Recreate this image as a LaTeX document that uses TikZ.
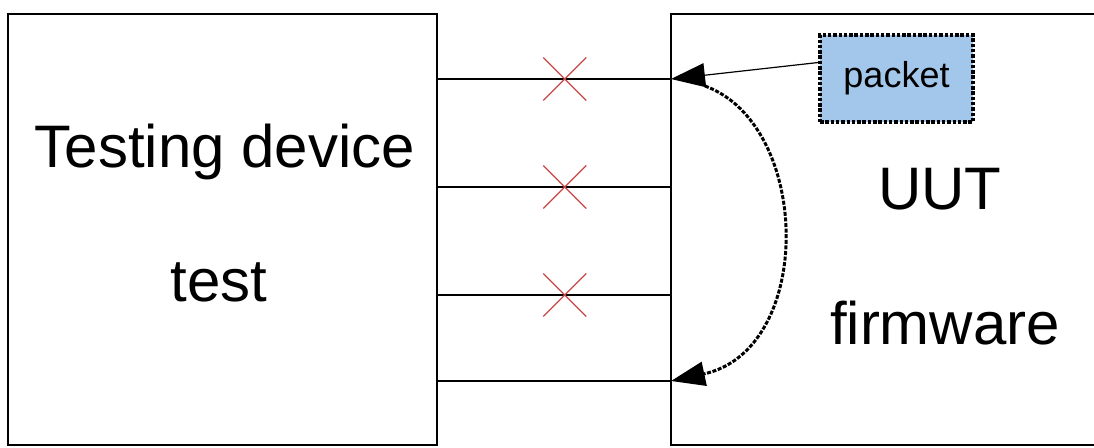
\documentclass[tikz,border=0pt]{standalone}
\usepackage{fontspec}
\setmainfont{Liberation Sans}
\usetikzlibrary{arrows.meta,calc}
\definecolor{crossred}{RGB}{200,70,70}
\definecolor{pktblue}{RGB}{163,199,235}
\tikzset{
  unit/.style={draw=black, line width=1.4pt, minimum width=#1, minimum height=431pt, inner sep=0pt, outer sep=0pt},
  bigtext/.style={font=\fontsize{60}{62}\selectfont, anchor=base},
  link/.style={draw=black, line width=1.3pt},
  cut/.style={draw=crossred, line width=1.2pt},
  pktbox/.style={draw=black, fill=pktblue, line width=3.4pt, dash pattern=on 3.5pt off 1.8pt,
    minimum width=153pt, minimum height=87pt, inner sep=0pt, font=\fontsize{36}{38}\selectfont},
  headtip/.style={-{Triangle[length=34pt, width=24pt]}},
}
\begin{document}
\begin{tikzpicture}[x=1pt, y=-1pt]
  \useasboundingbox (0,0) rectangle (1094,447);
  \clip (0,0) rectangle (1094,447);

  % the two units
  \node[unit=429pt] (dev) at (222.5,229.5) {};
  \node[unit=440pt] (uut) at (891,229.5) {};

  % labels
  \node[bigtext] (devname) at (225,167) {Testing device};
  \node[bigtext] (devmode) at (219,301) {test};
  \node[bigtext] (uutname) at (940,209) {UUT};
  \node[bigtext] (uutfw)   at (945,344) {firmware};

  % four wires between the units
  \foreach \n/\y in {1/79, 2/187, 3/295, 4/381} {
    \coordinate (a\n) at (dev.east |- 0,\y);
    \coordinate (b\n) at (uut.west |- 0,\y);
    \draw[link] (a\n) -- (b\n);
  }

  % broken wires
  \foreach \n in {1,2,3} {
    \coordinate (x\n) at ($(a\n)!0.546!(b\n)$);
    \draw[cut] ($(x\n)+(-21.5,-21.5)$) -- ($(x\n)+(21.5,21.5)$);
    \draw[cut] ($(x\n)+(-21.5,21.5)$) -- ($(x\n)+(21.5,-21.5)$);
  }

  % packet injected into the UUT
  \node[pktbox] (pkt) at (896.5,78.5) {packet};
  \draw[link, line width=1.2pt, headtip] ([yshift=16pt]pkt.west) -- (b1);

  % loop back from the first port to the last
  \coordinate (loopstart) at ($(b1)+(34,7)$);
  \draw[line width=3pt, dash pattern=on 4pt off 1.6pt, headtip]
    (loopstart) .. controls (812,125) and (815,350) .. (b4);
\end{tikzpicture}
\end{document}
